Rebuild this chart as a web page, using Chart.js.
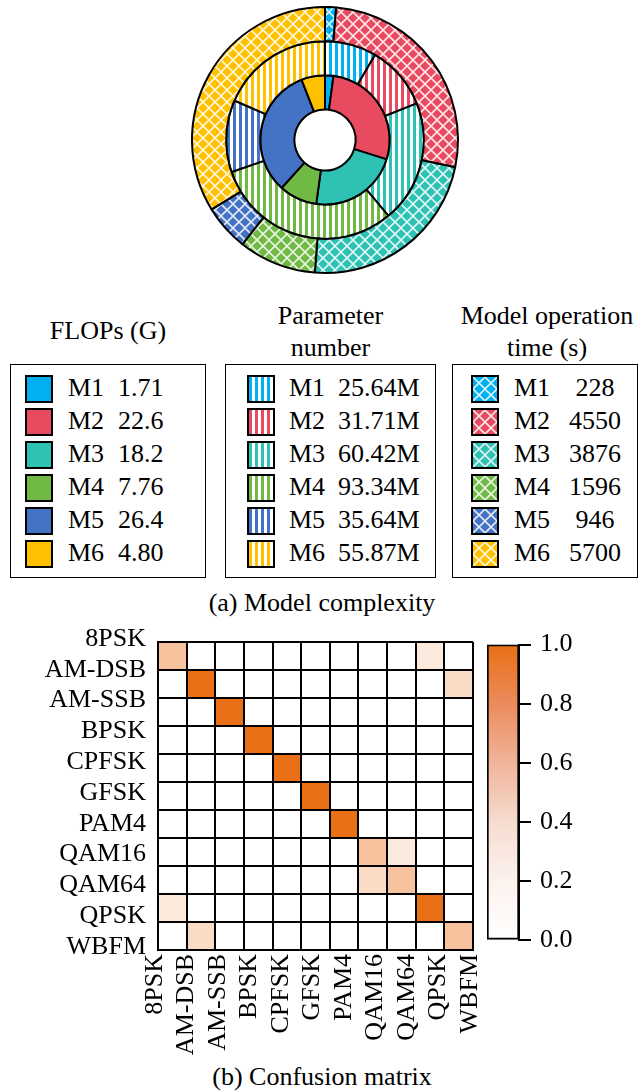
<!DOCTYPE html>
<html>
<head>
<meta charset="utf-8">
<script src="https://cdn.jsdelivr.net/npm/chart.js@4.4.0/dist/chart.umd.min.js"></script>
<style>
body { margin:0; width:644px; height:1092px; position:relative; background:#fff; overflow:hidden;
       font-family:'Liberation Serif','Times New Roman',serif; color:#000; }
canvas { position:absolute; }
.title { position:absolute; text-align:center; font-size:26px; line-height:32px; white-space:nowrap; }
.box { position:absolute; top:364px; height:214px; border:1.5px solid #000; box-sizing:border-box; }
.row { position:absolute; left:0; right:0; height:33px; font-size:26px; line-height:33px; white-space:nowrap; }
.row span { position:absolute; top:0; }
.row canvas { top:4px; border:2px solid #000; box-sizing:border-box; }
.cap { position:absolute; left:0; width:644px; text-align:center; font-size:26px; line-height:32px; }
</style>
</head>
<body>
<canvas id="ring" width="280" height="280" style="left:185px;top:0px"></canvas>

<div class="title" style="left:10px;width:196px;top:315px">FLOPs (G)</div>
<div class="title" style="left:225px;width:211px;top:300px">Parameter<br>number</div>
<div class="title" style="left:452px;width:190px;top:300px">Model operation<br>time (s)</div>

<div class="box" id="box1" style="left:10px;width:196px"></div>
<div class="box" id="box2" style="left:225px;width:211px"></div>
<div class="box" id="box3" style="left:452px;width:186px"></div>

<div class="cap" style="top:587px">(a) Model complexity</div>

<canvas id="heat" width="480" height="440" style="left:0px;top:620px"></canvas>
<canvas id="cbar" width="164" height="345" style="left:480px;top:620px"></canvas>

<div class="cap" style="top:1061px">(b) Confusion matrix</div>

<script>
// model complexity data
var models = ['M1', 'M2', 'M3', 'M4', 'M5', 'M6'];
var flops = [1.71, 22.6, 18.2, 7.76, 26.4, 4.80];
var paramsM = [25.64, 31.71, 60.42, 93.34, 35.64, 55.87];
var timeS = [228, 4550, 3876, 1596, 946, 5700];
var colors = ['#00B0F0', '#E84B60', '#2EC2B4', '#70B944', '#4472C4', '#FFC000'];

// confusion matrix data (rows = true class, cols = predicted)
var classes = ['8PSK', 'AM-DSB', 'AM-SSB', 'BPSK', 'CPFSK', 'GFSK', 'PAM4', 'QAM16', 'QAM64', 'QPSK', 'WBFM'];
var matrix = [
    [0.42, 0, 0, 0, 0, 0, 0, 0, 0, 0.15, 0],
    [0, 1, 0, 0, 0, 0, 0, 0, 0, 0, 0.25],
    [0, 0, 1, 0, 0, 0, 0, 0, 0, 0, 0],
    [0, 0, 0, 1, 0, 0, 0, 0, 0, 0, 0],
    [0, 0, 0, 0, 1, 0, 0, 0, 0, 0, 0],
    [0, 0, 0, 0, 0, 1, 0, 0, 0, 0, 0],
    [0, 0, 0, 0, 0, 0, 1, 0, 0, 0, 0],
    [0, 0, 0, 0, 0, 0, 0, 0.42, 0.15, 0, 0],
    [0, 0, 0, 0, 0, 0, 0, 0.25, 0.42, 0, 0],
    [0.15, 0, 0, 0, 0, 0, 0, 0, 0, 1, 0],
    [0, 0.25, 0, 0, 0, 0, 0, 0, 0, 0, 0.42]
];
var cbarTicks = [0, 0.2, 0.4, 0.6, 0.8, 1.0];

Chart.defaults.font.family = "'Liberation Serif', 'Times New Roman', serif";
Chart.defaults.font.size = 26;
Chart.defaults.color = '#000';
Chart.defaults.animation = false;
Chart.defaults.plugins.legend.display = false;
Chart.defaults.plugins.tooltip.enabled = false;

function stripes(c) {
    var t = document.createElement('canvas');
    t.width = 6; t.height = 6;
    var g = t.getContext('2d');
    g.fillStyle = c; g.fillRect(0, 0, 6, 6);
    g.fillStyle = '#fff'; g.fillRect(3, 0, 3, 6);
    return g.createPattern(t, 'repeat');
}

function hatch(c) {
    var s = 12;
    var t = document.createElement('canvas');
    t.width = s; t.height = s;
    var g = t.getContext('2d');
    g.fillStyle = c; g.fillRect(0, 0, s, s);
    g.strokeStyle = 'rgba(255,255,255,0.85)';
    g.lineWidth = 1.6;
    g.beginPath();
    g.moveTo(0, 0); g.lineTo(s, s);
    g.moveTo(s, 0); g.lineTo(0, s);
    g.stroke();
    return g.createPattern(t, 'repeat');
}

// nested rings: outer = time, middle = parameters, inner = FLOPs
new Chart(document.getElementById('ring'), {
    type: 'doughnut',
    data: {
        labels: models,
        datasets: [
            { label: 'time', data: timeS, backgroundColor: colors.map(hatch), borderColor: '#000', borderWidth: 2 },
            { label: 'params', data: paramsM, backgroundColor: colors.map(stripes), borderColor: '#000', borderWidth: 2 },
            { label: 'flops', data: flops, backgroundColor: colors, borderColor: '#000', borderWidth: 2 }
        ]
    },
    options: {
        responsive: false,
        devicePixelRatio: 1,
        cutout: '23%',
        layout: { padding: 6 }
    }
});

// legend boxes
function legendBox(id, fill, texts, pos) {
    var box = document.getElementById(id);
    models.forEach(function (m, i) {
        var row = document.createElement('div');
        row.className = 'row';
        row.style.top = (6 + i * 33) + 'px';
        var sw = document.createElement('canvas');
        sw.width = 24; sw.height = 24;
        sw.style.left = pos[0] + 'px';
        var g = sw.getContext('2d');
        g.fillStyle = fill(colors[i]);
        g.fillRect(0, 0, 24, 24);
        row.appendChild(sw);
        var name = document.createElement('span');
        name.style.left = pos[1] + 'px';
        name.textContent = m;
        row.appendChild(name);
        var val = document.createElement('span');
        val.style.left = pos[2] + 'px';
        if (pos[3]) { val.style.width = pos[3] + 'px'; val.style.textAlign = 'center'; }
        val.textContent = texts[i];
        row.appendChild(val);
        box.appendChild(row);
    });
}
legendBox('box1', function (c) { return c; }, flops.map(function (v) { return v.toPrecision(3); }), [14, 57, 107]);
legendBox('box2', stripes, paramsM.map(function (v) { return v.toFixed(2) + 'M'; }), [21, 63, 112]);
legendBox('box3', hatch, timeS.map(String), [18, 61, 102, 80]);

// confusion matrix as floating bars
var orange = [233, 112, 23];
function cellColor(v) {
    var r = Math.round(255 + (orange[0] - 255) * v);
    var g = Math.round(255 + (orange[1] - 255) * v);
    var b = Math.round(255 + (orange[2] - 255) * v);
    return 'rgb(' + r + ',' + g + ',' + b + ')';
}

var heatSets = matrix.map(function (row, r) {
    return {
        label: classes[r],
        data: row.map(function () { return [r, r + 1]; }),
        backgroundColor: row.map(cellColor),
        borderWidth: 0,
        barPercentage: 1,
        categoryPercentage: 1,
        grouped: false,
        xAxisID: 'x',
        yAxisID: 'y'
    };
});

new Chart(document.getElementById('heat'), {
    type: 'bar',
    data: { labels: classes, datasets: heatSets },
    options: {
        responsive: false,
        devicePixelRatio: 1,
        layout: { padding: { top: 22, right: 7, left: 0, bottom: 0 } },
        scales: {
            x: {
                type: 'category', offset: true,
                ticks: { display: false },
                grid: { offset: true, color: '#000', lineWidth: 2, drawTicks: false, z: 1 },
                border: { display: true, color: '#000', width: 2, z: 2 },
                afterFit: function (s) { s.height = 0; }
            },
            y: {
                type: 'linear', min: 0, max: 11, reverse: true,
                ticks: { display: false, stepSize: 1 },
                grid: { color: '#000', lineWidth: 2, drawTicks: false, z: 1 },
                border: { display: true, color: '#000', width: 2, z: 2 },
                afterFit: function (s) { s.width = 0; }
            },
            x2: {
                type: 'linear', position: 'bottom', min: 0, max: 10, offset: false,
                ticks: {
                    stepSize: 1, autoSkip: false, maxRotation: 90, minRotation: 90, padding: 4,
                    labelOffset: -3,
                    callback: function (v) { return classes[v]; }
                },
                grid: { display: false, drawTicks: false, offset: false },
                border: { display: false },
                afterFit: function (s) { s.height = 110; s.paddingLeft = 0; s.paddingRight = 0; }
            },
            y2: {
                type: 'linear', position: 'left', min: 0, max: 10, reverse: true,
                ticks: {
                    stepSize: 1, autoSkip: false, padding: 12, labelOffset: -3,
                    callback: function (v) { return classes[v]; }
                },
                grid: { display: false, drawTicks: false },
                border: { display: false },
                afterFit: function (s) { s.width = 158; s.paddingTop = 0; s.paddingBottom = 0; }
            }
        }
    }
});

// colour bar
var cbarStops = ['#ffffff', '#fcf2ee', '#f6dcd0', '#f0b49a', '#eb8b5c', '#e87015'];
function cbarFill(ctx) {
    var area = ctx.chart.chartArea;
    if (!area) return '#fff';
    var gr = ctx.chart.ctx.createLinearGradient(0, area.bottom, 0, area.top);
    cbarTicks.forEach(function (t, i) { gr.addColorStop(t, cbarStops[i]); });
    return gr;
}

new Chart(document.getElementById('cbar'), {
    type: 'bar',
    data: {
        labels: [''],
        datasets: [{
            data: [[0, 1]],
            backgroundColor: cbarFill,
            borderColor: '#000',
            borderWidth: 2,
            borderSkipped: false,
            barPercentage: 1,
            categoryPercentage: 1
        }]
    },
    options: {
        responsive: false,
        devicePixelRatio: 1,
        layout: { padding: { left: 7, top: 22, bottom: 15, right: 0 } },
        scales: {
            x: { display: false },
            y: {
                position: 'right', min: 0, max: 1,
                ticks: { stepSize: 0.2, padding: 9, callback: function (v) { return v.toFixed(1); } },
                grid: { drawOnChartArea: false, drawTicks: true, tickLength: 12, color: '#000', lineWidth: 2 },
                border: { display: true, color: '#000', width: 2 },
                afterFit: function (s) { s.width = 125; }
            }
        }
    }
});
</script>
</body>
</html>
